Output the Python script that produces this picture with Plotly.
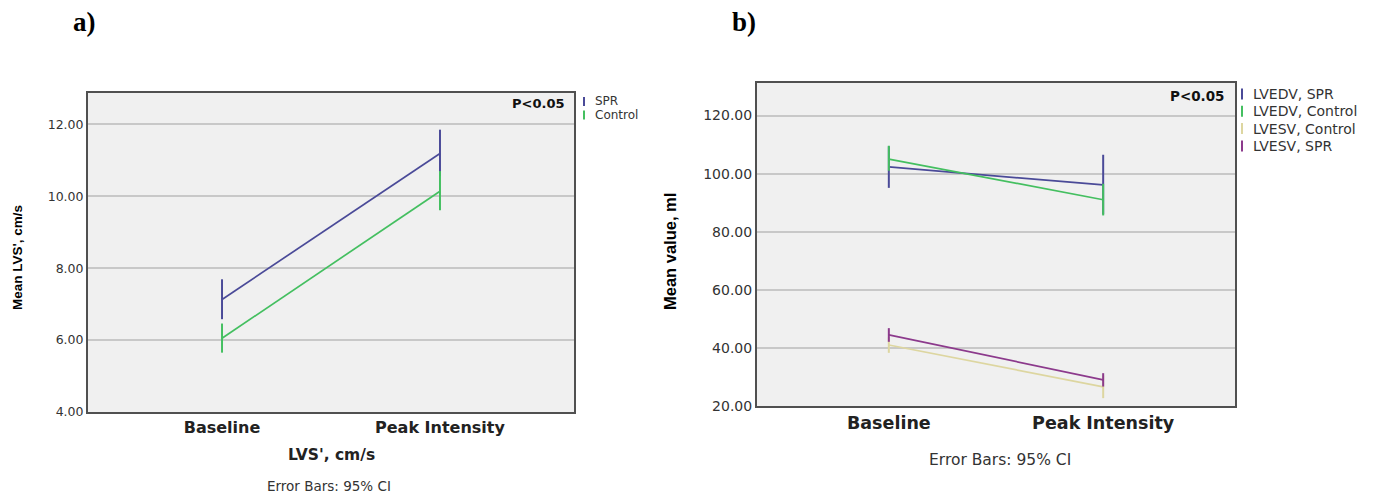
import plotly.graph_objects as go

W, H = 1378, 497

categories = ["Baseline", "Peak Intensity"]

# Panel a: LVS' (cm/s)
a_names = ["SPR", "Control"]
a_mean = [[7.13, 11.19], [6.05, 10.14]]
a_lo = [[6.58, 10.56], [5.65, 9.61]]
a_hi = [[7.69, 11.85], [6.46, 10.70]]
a_ticks = [4, 6, 8, 10, 12]

# Panel b: LV volumes (ml)
b_names = ["LVEDV, SPR", "LVEDV, Control", "LVESV, Control", "LVESV, SPR"]
b_mean = [[102.3, 96.1], [105.0, 91.0], [41.0, 26.6], [44.5, 29.0]]
b_lo = [[95.1, 86.0], [101.0, 85.6], [38.3, 22.7], [42.1, 26.7]]
b_hi = [[109.4, 106.5], [109.6, 96.5], [43.7, 30.5], [46.8, 31.3]]
b_ticks = [20, 40, 60, 80, 100, 120]

a_colors = ["#4a4a98", "#44bf60"]
b_colors = ["#4a4a98", "#44bf60", "#ddd6a0", "#8c3a8c"]

SANS = "DejaVu Sans"
ARIAL = "Liberation Sans, Arial, sans-serif"


def px(x):
    return x / W


def py(y):
    return 1 - y / H


fig = go.Figure()


def add_series(names, means, los, his, colors, xa, ya):
    for n, m, lo, hi, c in zip(names, means, los, his, colors):
        fig.add_trace(go.Scatter(
            x=categories, y=m, mode="lines", name=n, showlegend=False,
            line=dict(color=c, width=1.7),
            error_y=dict(type="data", symmetric=False,
                         array=[h - v for h, v in zip(hi, m)],
                         arrayminus=[v - l for v, l in zip(m, lo)],
                         width=0, thickness=2, color=c),
            xaxis=xa, yaxis=ya, hoverinfo="skip"))


add_series(a_names, a_mean, a_lo, a_hi, a_colors, "x", "y")
add_series(b_names, b_mean, b_lo, b_hi, b_colors, "x2", "y2")

# geometry (pixels)
A = dict(l=88, r=574, t=93, b=412)
B = dict(l=757, r=1235, t=83, b=406)

common_x = dict(type="category", categoryorder="array", categoryarray=categories,
                range=[-0.615, 1.615], showgrid=False, zeroline=False, ticks="",
                showline=True, mirror=True, linecolor="#505050", linewidth=2,
                fixedrange=True, automargin=False)
common_y = dict(showgrid=True, gridcolor="#c8c8c8", gridwidth=1.5, zeroline=False,
                ticks="", showline=True, mirror=True, linecolor="#505050", linewidth=2,
                tickformat=".2f", fixedrange=True, automargin=False)

fig.update_layout(
    width=W, height=H, margin=dict(l=0, r=0, t=0, b=0, autoexpand=False),
    paper_bgcolor="white", plot_bgcolor="#f0f0f0", showlegend=False,
    xaxis=dict(common_x, domain=[px(A["l"]), px(A["r"])], anchor="y",
               tickfont=dict(family=SANS, size=16, color="#222", weight="bold")),
    yaxis=dict(common_y, domain=[py(A["b"]), py(A["t"])], anchor="x",
               range=[4, 12.87], tickvals=a_ticks,
               tickfont=dict(family=SANS, size=12.5, color="#333")),
    xaxis2=dict(common_x, domain=[px(B["l"]), px(B["r"])], anchor="y2",
                tickfont=dict(family=SANS, size=17.5, color="#222", weight="bold")),
    yaxis2=dict(common_y, domain=[py(B["b"]), py(B["t"])], anchor="x2",
                range=[20, 131.2], tickvals=b_ticks,
                tickfont=dict(family=SANS, size=14, color="#333")),
)

ann = []


def text(x, y, s, size, family=SANS, weight="normal", angle=0, color="#222",
         xanchor="center"):
    ann.append(dict(x=px(x), y=py(y), xref="paper", yref="paper", text=s,
                    showarrow=False, textangle=angle, xanchor=xanchor,
                    yanchor="middle",
                    font=dict(family=family, size=size, color=color, weight=weight)))


# panel labels
text(84, 22, "a)", 27, family="Liberation Serif", weight="bold", color="#000")
text(744, 22, "b)", 27, family="Liberation Serif", weight="bold", color="#000")

# axis titles
text(17, 258, "Mean LVS', cm/s", 13.5, family=ARIAL, weight="bold", angle=-90, color="#000")
text(670, 252, "Mean value, ml", 16.5, family=ARIAL, weight="bold", angle=-90, color="#000")
text(331, 455, "LVS', cm/s", 15.5, weight="bold", color="#222")
text(329, 486, "Error Bars: 95% CI", 13.5, color="#333")
text(1000, 460, "Error Bars: 95% CI", 15.5, color="#333")

# p-value labels
text(567, 103, "P<0.05", 13, weight="bold", color="#111", xanchor="right")
text(1227, 96, "P<0.05", 13.5, weight="bold", color="#111", xanchor="right")

shapes = []
# legends
for i, (n, c) in enumerate(zip(a_names, a_colors)):
    yc = 101.5 + i * 13.5
    shapes.append(dict(type="line", xref="paper", yref="paper",
                       x0=px(584), x1=px(584), y0=py(yc - 4.5), y1=py(yc + 4.5),
                       line=dict(color=c, width=2)))
    text(593, yc, n, 12, color="#333", xanchor="left")

for i, (n, c) in enumerate(zip(b_names, b_colors)):
    yc = 94 + i * 17.3
    shapes.append(dict(type="line", xref="paper", yref="paper",
                       x0=px(1242), x1=px(1242), y0=py(yc - 5.5), y1=py(yc + 5.5),
                       line=dict(color=c, width=2)))
    text(1251, yc, n, 14, color="#333", xanchor="left")

fig.update_layout(annotations=ann, shapes=shapes)

fig.write_html("out.html")
